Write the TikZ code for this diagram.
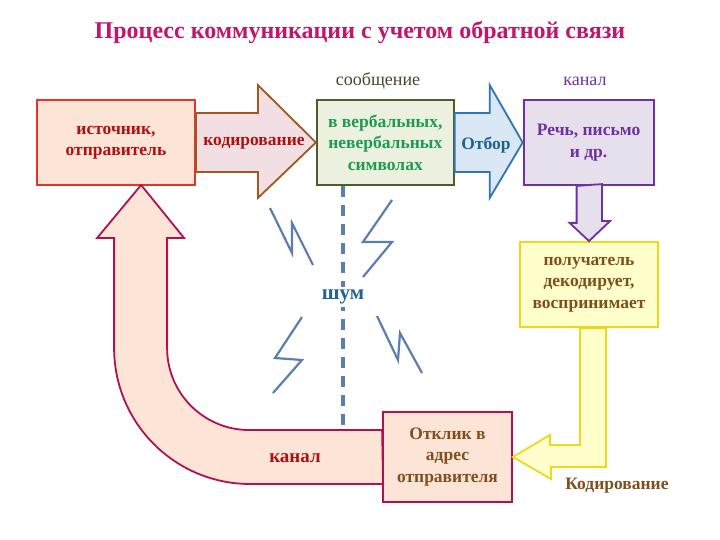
\documentclass[tikz,border=0pt]{standalone}
\usepackage{fontspec}
\setmainfont{Liberation Serif}
\usepackage{tikz}
\usetikzlibrary{positioning}
\definecolor{titlered}{HTML}{C0176A}
\definecolor{peach}{HTML}{FCE4D6}
\definecolor{srcred}{HTML}{E8332A}
\definecolor{darkred}{HTML}{B01010}
\definecolor{codebrown}{HTML}{A0581E}
\definecolor{codepink}{HTML}{F2DFE3}
\definecolor{msgfill}{HTML}{EBF1DE}
\definecolor{msgline}{HTML}{4F5A2E}
\definecolor{msggreen}{HTML}{1E9B52}
\definecolor{selfill}{HTML}{DAE7F5}
\definecolor{selblue}{HTML}{2E75B6}
\definecolor{seltext}{HTML}{1F6391}
\definecolor{chanfill}{HTML}{E5E0EC}
\definecolor{chanpurple}{HTML}{7030A0}
\definecolor{recvfill}{HTML}{FFFFCC}
\definecolor{recvline}{HTML}{EED81A}
\definecolor{textbrown}{HTML}{7F4F1E}
\definecolor{respline}{HTML}{B0124E}
\definecolor{noiseblue}{HTML}{5A7FAF}
\definecolor{olivetext}{HTML}{4A4628}

\begin{document}
\begin{tikzpicture}[
    x=1pt, y=-1pt,
    box/.style={rectangle, draw, line width=1.8pt, align=center, inner sep=1pt,
                font=\fontsize{17.5}{21.5}\selectfont\bfseries},
    blockarrow/.style={draw, line width=1.8pt, line join=miter},
    lbl/.style={font=\fontsize{17.5}{21}\selectfont\bfseries},
    toplbl/.style={font=\fontsize{18}{20}\selectfont},
    bolt/.style={draw=noiseblue, line width=2.2pt},
    noise/.style={draw=noiseblue, line width=4.5pt, dash pattern=on 11pt off 8pt}
]
\useasboundingbox (0,0) rectangle (720,540);

\node[font=\fontsize{24}{28}\selectfont\bfseries, text=titlered] (title) at (360,33)
    {Процесс коммуникации с учетом обратной связи};

\node[box, fill=peach, draw=srcred, text=darkred, minimum width=158pt, minimum height=85pt]
    (src) at (116,142.5) {источник,\\отправитель};
\node[box, fill=msgfill, draw=msgline, text=msggreen, minimum width=137pt, minimum height=85pt,
    right=120pt of src] (msg) {в вербальных,\\невербальных\\символах};
\node[box, fill=chanfill, draw=chanpurple, text=chanpurple, minimum width=130pt, minimum height=85pt,
    right=68pt of msg] (chan) {Речь, письмо\\и др.};
\node[box, fill=recvfill, draw=recvline, text=textbrown, minimum width=138pt, minimum height=85pt]
    (recv) at (589,284.5) {получатель\\декодирует,\\воспринимает};
\node[box, fill=peach, draw=respline, text=textbrown, minimum width=129pt, minimum height=90pt]
    (resp) at (447.5,457) {Отклик в\\адрес\\отправителя};

\node[toplbl, text=olivetext] (msglbl) at (378,81) {сообщение};
\node[toplbl, text=chanpurple] (chanlbl) at (585,81) {канал};

% block arrows
\filldraw[blockarrow, fill=codepink, draw=codebrown] (src.east) ++(0,-29.5) -- ++(62,0) -- ++(0,-28)
    -- (msg.west) -- ++(-58,55.5) -- ++(0,-26) -- ++(-62,0) -- cycle;
\node[lbl, text=darkred] (code) at (254,143) {кодирование};

\filldraw[blockarrow, fill=selfill, draw=selblue] (msg.east) ++(0,-29.5) -- ++(35,0) -- ++(0,-28)
    -- (chan.west) -- ++(-33,55.5) -- ++(0,-26) -- ++(-35,0) -- cycle;
\node[lbl, text=seltext] (sel) at (486,145) {Отбор};

\filldraw[blockarrow, fill=chanfill, draw=chanpurple] (chan.south) ++(-12,0) -- ++(0,37) -- ++(-7,0)
    -- (recv.north) -- ++(21,-20) -- ++(-8,0) -- ++(0,-37) -- cycle;

\filldraw[blockarrow, fill=recvfill, draw=recvline] (recv.south) ++(-9,0) -- ++(0,117) -- ++(-30,0)
    -- ++(0,-10) -- (resp.east) -- ++(38,22) -- ++(0,-12) -- ++(55,0) -- ++(0,-139) -- cycle;
\node[lbl, text=textbrown] (recode) at (617,486) {Кодирование};

\filldraw[blockarrow, fill=peach, draw=respline] (resp.west) ++(0,-27) -- ++(-133,0)
    arc[start angle=90, end angle=180, radius=82] -- ++(0,-110) -- ++(17,0) -- ++(-43,-53)
    -- ++(-44,53) -- ++(17,0) -- ++(0,110) arc[start angle=180, end angle=90, radius=136]
    -- ++(133,0) -- cycle;
\node[lbl, text=darkred, font=\fontsize{19}{21}\selectfont\bfseries] (back) at (295,458) {канал};

% noise
\coordinate (ntop) at (343,186);
\coordinate (nbot) at (343,428);
\draw[noise] (ntop) -- (nbot);
\node[lbl, text=seltext, fill=white, inner sep=3pt, font=\fontsize{21}{24}\selectfont\bfseries]
    (noiselbl) at (343,297) {шум};

\draw[bolt] (270,208) -- (292,253) -- (292,223) -- (313,265);
\draw[bolt] (392,200) -- (363,242) -- (392,242) -- (363,277);
\draw[bolt] (302,317) -- (275,358) -- (302,360) -- (273,393);
\draw[bolt] (377,316) -- (398,360) -- (400,333) -- (422,373);

\end{tikzpicture}
\end{document}
